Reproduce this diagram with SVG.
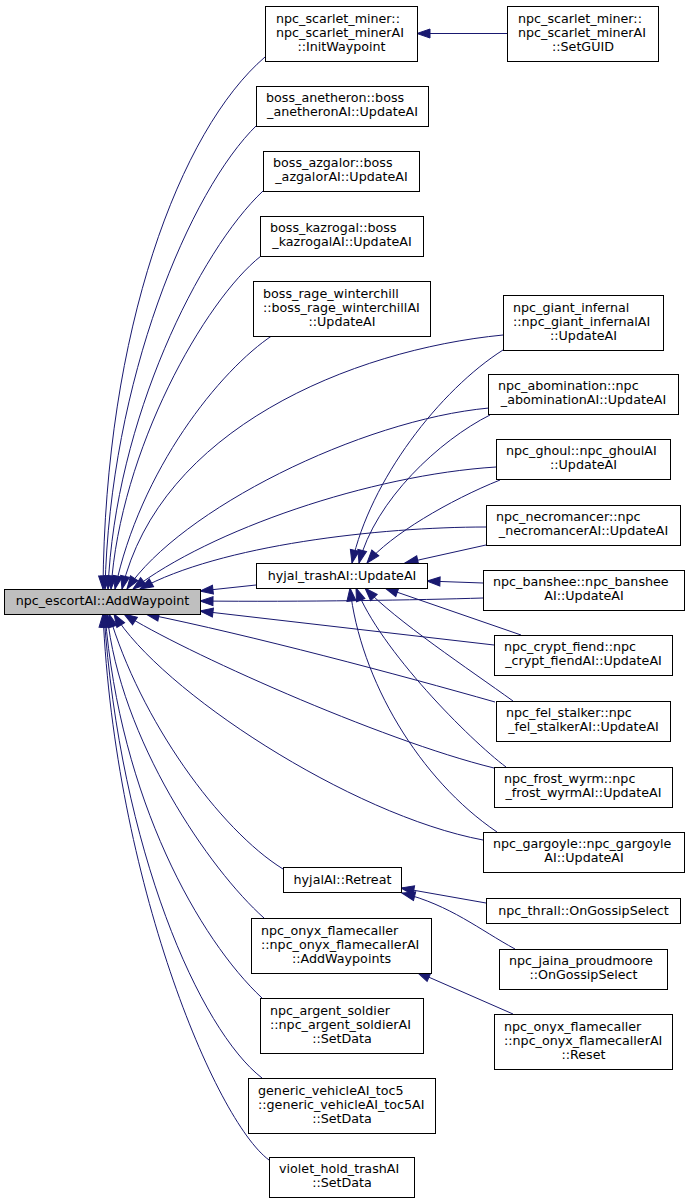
<svg xmlns="http://www.w3.org/2000/svg" width="688" height="1203" viewBox="0 0 688 1203">
<style>
.node rect{fill:#fff;stroke:#000;stroke-width:1}
.node.hub rect{fill:#bfbfbf}
.node text{font-family:"DejaVu Sans","Liberation Sans",sans-serif;font-size:12.7px;fill:#000}
.node text.c{text-anchor:middle}
#edges path{fill:none;stroke:#191970;stroke-width:1;marker-end:url(#ah)}
</style>
<defs>
<marker id="ah" markerUnits="userSpaceOnUse" markerWidth="14" markerHeight="10" refX="13" refY="4.5" orient="auto" overflow="visible">
<path d="M0,0 L13,4.5 L0,9 z" fill="#191970" stroke="#191970"/>
</marker>
</defs>
<rect width="688" height="1203" fill="#fff"/>
<g id="edges">
<path d="M265,57 C180,130 105,330 103,589"/>
<path d="M507,33.5 L417,33.5"/>
<path d="M257,125 C190,190 110,380 105,589"/>
<path d="M263,191 C200,250 115,420 108,589"/>
<path d="M261,256 C205,300 120,450 111,589"/>
<path d="M273,335 C220,370 140,470 115,589"/>
<path d="M503,335 C350,350 160,430 122,589"/>
<path d="M489,408 C360,420 180,510 127,589"/>
<path d="M496,467 C370,475 210,530 133,589"/>
<path d="M486,527 C380,527 220,545 140,589"/>
<path d="M256,585 L200,591"/>
<path d="M483,598 C420,600 300,602 200,601"/>
<path d="M494,645 L200,611"/>
<path d="M495,702 C400,675 250,635 146,614"/>
<path d="M494,768 C380,740 180,650 124,614"/>
<path d="M483,840 C350,815 160,690 114,614"/>
<path d="M283,869 C220,830 140,720 109,614"/>
<path d="M264,918 C210,870 120,740 107,614"/>
<path d="M262,998 C200,940 120,800 105,614"/>
<path d="M262,1078 C200,1030 120,850 104,614"/>
<path d="M269,1160 C215,1120 115,880 103,614"/>
<path d="M503,350 C440,390 370,480 352,563"/>
<path d="M490,415 C440,440 375,500 359,563"/>
<path d="M500,480 C450,500 390,535 367,563"/>
<path d="M486,545 L405,563"/>
<path d="M483,583 L427,581"/>
<path d="M521,635 L385,588"/>
<path d="M513,701 C470,670 395,620 365,588"/>
<path d="M506,767 C470,740 380,650 356,588"/>
<path d="M497,832 C420,780 360,680 350,588"/>
<path d="M486,903 L401,888"/>
<path d="M515,949 C480,930 450,905 402,893"/>
<path d="M513,1014 L417,972"/>
</g>
<g id="n_initwaypoint" class="node"><rect x="265.5" y="6.5" width="152" height="55"/><text x="276" y="23">npc_scarlet_miner::</text><text x="276" y="37">npc_scarlet_minerAI</text><text class="c" x="341.5" y="51">::InitWaypoint</text></g>
<g id="n_setguid" class="node"><rect x="507.5" y="6.5" width="151" height="55"/><text x="518" y="23">npc_scarlet_miner::</text><text x="518" y="37">npc_scarlet_minerAI</text><text class="c" x="583" y="51">::SetGUID</text></g>
<g id="n_anetheron" class="node"><rect x="256.5" y="86.5" width="172" height="40"/><text x="266" y="102">boss_anetheron::boss</text><text class="c" x="342.5" y="116">_anetheronAI::UpdateAI</text></g>
<g id="n_azgalor" class="node"><rect x="263.5" y="151.5" width="156" height="40"/><text x="273" y="167">boss_azgalor::boss</text><text class="c" x="341.5" y="181">_azgalorAI::UpdateAI</text></g>
<g id="n_kazrogal" class="node"><rect x="260.5" y="216.5" width="163" height="40"/><text x="270" y="232">boss_kazrogal::boss</text><text class="c" x="342" y="246">_kazrogalAI::UpdateAI</text></g>
<g id="n_rage" class="node"><rect x="253.5" y="281.5" width="177" height="55"/><text x="263" y="298">boss_rage_winterchill</text><text x="263" y="312">::boss_rage_winterchillAI</text><text class="c" x="342" y="326">::UpdateAI</text></g>
<g id="n_giant" class="node"><rect x="503.5" y="295.5" width="160" height="55"/><text x="513" y="312">npc_giant_infernal</text><text x="513" y="326">::npc_giant_infernalAI</text><text class="c" x="583.5" y="340">::UpdateAI</text></g>
<g id="n_abomination" class="node"><rect x="488.5" y="374.5" width="190" height="40"/><text x="498" y="390">npc_abomination::npc</text><text class="c" x="583.5" y="404">_abominationAI::UpdateAI</text></g>
<g id="n_ghoul" class="node"><rect x="496.5" y="439.5" width="174" height="40"/><text x="506" y="455">npc_ghoul::npc_ghoulAI</text><text class="c" x="583.5" y="469">::UpdateAI</text></g>
<g id="n_necromancer" class="node"><rect x="486.5" y="505.5" width="194" height="40"/><text x="496" y="521">npc_necromancer::npc</text><text class="c" x="583.5" y="535">_necromancerAI::UpdateAI</text></g>
<g id="n_hyjal_trash" class="node"><rect x="256.5" y="563.5" width="171" height="25"/><text class="c" x="342" y="580">hyjal_trashAI::UpdateAI</text></g>
<g id="n_escort" class="node hub"><rect x="4.5" y="589.5" width="196" height="25"/><text class="c" x="102.5" y="605">npc_escortAI::AddWaypoint</text></g>
<g id="n_banshee" class="node"><rect x="483.5" y="570.5" width="201" height="40"/><text x="493" y="586">npc_banshee::npc_banshee</text><text class="c" x="584" y="600">AI::UpdateAI</text></g>
<g id="n_crypt" class="node"><rect x="494.5" y="635.5" width="178" height="40"/><text x="504" y="651">npc_crypt_fiend::npc</text><text class="c" x="583.5" y="665">_crypt_fiendAI::UpdateAI</text></g>
<g id="n_fel" class="node"><rect x="496.5" y="701.5" width="174" height="40"/><text x="506" y="717">npc_fel_stalker::npc</text><text class="c" x="583.5" y="731">_fel_stalkerAI::UpdateAI</text></g>
<g id="n_frost" class="node"><rect x="494.5" y="767.5" width="178" height="40"/><text x="504" y="783">npc_frost_wyrm::npc</text><text class="c" x="583.5" y="797">_frost_wyrmAI::UpdateAI</text></g>
<g id="n_gargoyle" class="node"><rect x="483.5" y="832.5" width="201" height="40"/><text x="493" y="848">npc_gargoyle::npc_gargoyle</text><text class="c" x="584" y="862">AI::UpdateAI</text></g>
<g id="n_retreat" class="node"><rect x="283.5" y="867.5" width="118" height="25"/><text class="c" x="342.5" y="884">hyjalAI::Retreat</text></g>
<g id="n_thrall" class="node"><rect x="486.5" y="898.5" width="194" height="25"/><text class="c" x="583.5" y="915">npc_thrall::OnGossipSelect</text></g>
<g id="n_addwaypoints" class="node"><rect x="251.5" y="918.5" width="180" height="55"/><text x="261" y="935">npc_onyx_flamecaller</text><text x="261" y="949">::npc_onyx_flamecallerAI</text><text class="c" x="341.5" y="963">::AddWaypoints</text></g>
<g id="n_jaina" class="node"><rect x="499.5" y="949.5" width="168" height="40"/><text x="509" y="965">npc_jaina_proudmoore</text><text class="c" x="583.5" y="979">::OnGossipSelect</text></g>
<g id="n_reset" class="node"><rect x="494.5" y="1014.5" width="178" height="55"/><text x="504" y="1031">npc_onyx_flamecaller</text><text x="504" y="1045">::npc_onyx_flamecallerAI</text><text class="c" x="583.5" y="1059">::Reset</text></g>
<g id="n_argent" class="node"><rect x="260.5" y="998.5" width="163" height="55"/><text x="270" y="1015">npc_argent_soldier</text><text x="270" y="1029">::npc_argent_soldierAI</text><text class="c" x="342" y="1043">::SetData</text></g>
<g id="n_generic" class="node"><rect x="248.5" y="1078.5" width="187" height="55"/><text x="258" y="1095">generic_vehicleAI_toc5</text><text x="258" y="1109">::generic_vehicleAI_toc5AI</text><text class="c" x="342" y="1123">::SetData</text></g>
<g id="n_violet" class="node"><rect x="269.5" y="1157.5" width="145" height="40"/><text x="279" y="1173">violet_hold_trashAI</text><text class="c" x="342" y="1187">::SetData</text></g>
</svg>
